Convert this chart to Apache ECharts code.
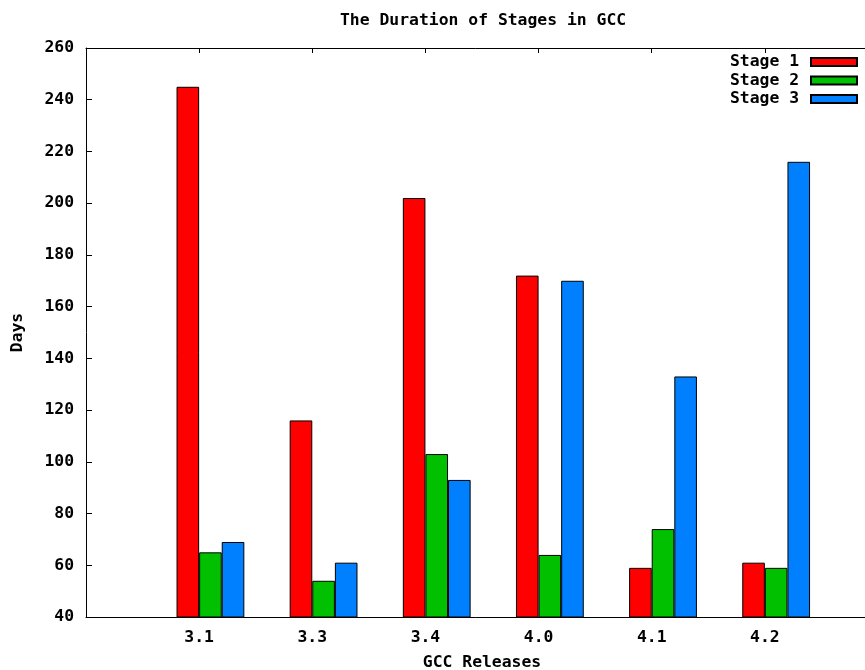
<!DOCTYPE html>
<html>
<head>
<meta charset="utf-8">
<script src="https://cdn.jsdelivr.net/npm/echarts@6/dist/echarts.min.js"></script>
<style>html,body{margin:0;padding:0;background:#fff}#c{width:865px;height:670px}</style>
</head>
<body>
<div id="c"></div>
<script>
var categories = ['', '3.1', '3.3', '3.4', '4.0', '4.1', '4.2', ''];
var stage1 = ['-', 245, 116, 202, 172, 59, 61, '-'];
var stage2 = ['-', 65, 54, 103, 64, 74, 59, '-'];
var stage3 = ['-', 69, 61, 93, 170, 133, 216, '-'];
var gapSlot = ['-', '-', '-', '-', '-', '-', '-', '-'];
var yTicks = {min: 40, max: 260, interval: 20};

var FONT = 'DejaVu Sans Mono';
var FS = 16.4;
var chart = echarts.init(document.getElementById('c'), null, {renderer: 'canvas'});
function barSeries(name, data, color) {
  return {
    name: name, type: 'bar', data: data, barWidth: 22.6, barGap: '0%',
    itemStyle: {color: color, borderColor: '#000', borderWidth: 1},
    emphasis: {disabled: true}, animation: false
  };
}
chart.setOption({
  animation: false,
  backgroundColor: '#fff',
  title: {
    text: 'The Duration of Stages in GCC', left: 335, top: 8,
    textStyle: {fontFamily: FONT, fontSize: FS, fontWeight: 'bold', color: '#000'}
  },
  legend: {
    data: ['Stage 1', 'Stage 2', 'Stage 3'],
    orient: 'vertical', align: 'right', right: 2, top: 49,
    itemWidth: 46, itemHeight: 8, itemGap: 2.5, icon: 'rect',
    textStyle: {fontFamily: FONT, fontSize: FS, fontWeight: 'bold', color: '#000', lineHeight: 16, padding: [0, 7, 0, 0]},
    selectedMode: false
  },
  grid: {left: 86, right: -13, top: 48, bottom: 53, containLabel: false, outerBoundsMode: 'none'},
  xAxis: [{
    type: 'category', data: categories, boundaryGap: false, position: 'bottom',
    axisLine: {show: true, lineStyle: {color: '#000', width: 1}},
    axisTick: {show: false},
    axisLabel: {margin: 12.5, interval: 0, fontFamily: FONT, fontSize: FS, fontWeight: 'bold', color: '#000'},
    splitLine: {show: false},
    name: 'GCC Releases', nameLocation: 'middle', nameGap: 38,
    nameTextStyle: {fontFamily: FONT, fontSize: FS, fontWeight: 'bold', color: '#000'}
  }, {
    type: 'category', data: categories, boundaryGap: false, position: 'top',
    axisLine: {show: true, lineStyle: {color: '#000', width: 1}},
    axisTick: {show: true, inside: true, length: 5, interval: 0, lineStyle: {color: '#000'}},
    axisLabel: {show: false}, splitLine: {show: false}
  }],
  yAxis: {
    type: 'value', min: yTicks.min, max: yTicks.max, interval: yTicks.interval,
    axisLine: {show: true, lineStyle: {color: '#000', width: 1}},
    axisTick: {show: true, inside: true, length: 6, lineStyle: {color: '#000'}},
    axisLabel: {margin: 12, fontFamily: FONT, fontSize: FS, fontWeight: 'bold', color: '#000'},
    splitLine: {show: false},
    name: 'Days', nameLocation: 'middle', nameGap: 60, nameRotate: 90,
    nameTextStyle: {fontFamily: FONT, fontSize: FS, fontWeight: 'bold', color: '#000'}
  },
  series: [
    barSeries('gap', gapSlot, 'transparent'),
    barSeries('Stage 1', stage1, '#ff0000'),
    barSeries('Stage 2', stage2, '#00c000'),
    barSeries('Stage 3', stage3, '#0080ff')
  ]
});
</script>
</body>
</html>
